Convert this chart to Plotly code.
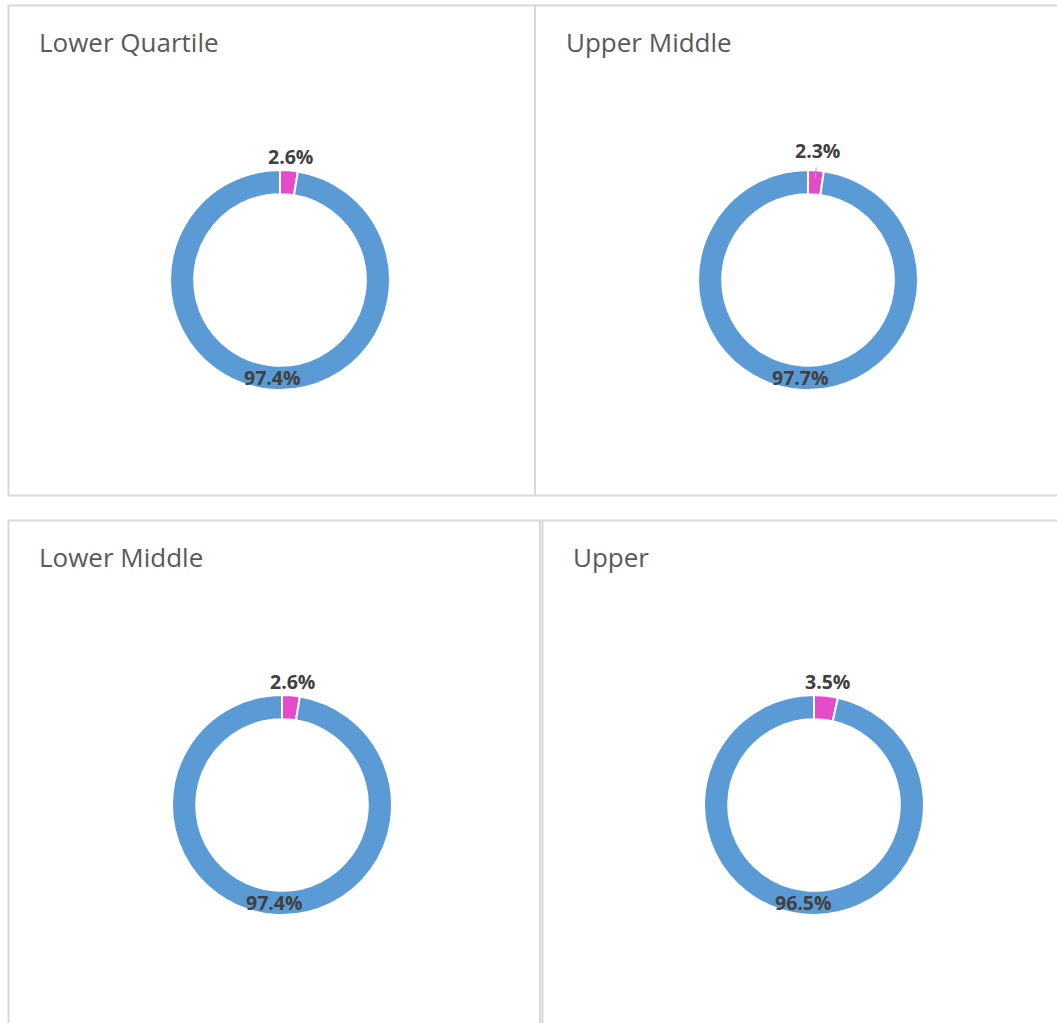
import math
import plotly.graph_objects as go

W, H = 1057, 1023

# ---- data ----
panel_titles = ["Lower Quartile", "Upper Middle", "Lower Middle", "Upper"]
categories = ["Pink", "Blue"]
pink_values = [2.6, 2.3, 2.6, 3.5]
blue_values = [97.4, 97.7, 97.4, 96.5]

# ---- styling / layout ----
colors = ["#E54BC8", "#5B9BD5"]
centers = [(280, 280), (808, 280), (282, 805), (814, 805)]  # pixel centres of donuts
radius = 110
hole = 0.78
title_pos = [(37, 42), (564, 42), (37, 557), (571, 557)]
panels = [(8.5, 5.5, 535, 495.5), (535, 5.5, 1070, 495.5),
          (8.5, 520.5, 540, 1040), (542.5, 520.5, 1070, 1040)]
outer_label_gap = [14, 20, 14, 14]

def px(x):
    return x / W

def py(y):
    return 1 - y / H

fig = go.Figure()
annotations = []
shapes = []

for i in range(4):
    cx, cy = centers[i]
    vals = [pink_values[i], blue_values[i]]
    fig.add_trace(go.Pie(
        labels=categories, values=vals, sort=False, direction="clockwise",
        rotation=0, hole=hole, textinfo="none", hoverinfo="label+percent",
        marker=dict(colors=colors, line=dict(color="white", width=2)),
        domain=dict(x=[px(cx - radius), px(cx + radius)],
                    y=[py(cy + radius), py(cy - radius)]),
        showlegend=False,
    ))
    total = sum(vals)
    start = 0.0
    for j, v in enumerate(vals):
        mid = (start + v / 2) / total * 2 * math.pi
        start += v
        if j == 0:
            r = radius + outer_label_gap[i]
        else:
            r = radius * (1 + hole) / 2
        lx = cx + r * math.sin(mid)
        ly = cy - r * math.cos(mid)
        annotations.append(dict(
            x=px(lx), y=py(ly), xref="paper", yref="paper",
            text=f"<b>{v:.1f}%</b>", showarrow=False,
            xanchor="center", yanchor="middle",
            font=dict(family="Open Sans", size=19.5, color="#404040")))
    # panel title
    tx, ty = title_pos[i]
    annotations.append(dict(
        x=px(tx), y=py(ty), xref="paper", yref="paper", text=panel_titles[i],
        showarrow=False, xanchor="left", yanchor="middle",
        font=dict(family="Open Sans", size=26, color="#595959")))
    x0, y0, x1, y1 = panels[i]
    shapes.append(dict(type="rect", xref="paper", yref="paper",
                       x0=px(x0), x1=px(x1), y0=py(y1), y1=py(y0),
                       line=dict(color="#D9D9D9", width=2), fillcolor="rgba(0,0,0,0)",
                       layer="below"))

# leader line for the Upper Middle small slice
cx, cy = centers[1]
mid = pink_values[1] / 2 / (pink_values[1] + blue_values[1]) * 2 * math.pi
shapes.append(dict(type="line", xref="paper", yref="paper",
                   x0=px(cx + (radius + 3) * math.sin(mid)), y0=py(cy - (radius + 3) * math.cos(mid)),
                   x1=px(cx + (radius - 8) * math.sin(mid)), y1=py(cy - (radius - 8) * math.cos(mid)),
                   line=dict(color="#A6A6A6", width=1)))

fig.update_layout(
    width=W, height=H, margin=dict(l=0, r=0, t=0, b=0),
    paper_bgcolor="white", plot_bgcolor="white",
    annotations=annotations, shapes=shapes,
)

fig.write_html("out.html", config={"displayModeBar": False},
               post_script="document.body.style.margin='0';document.body.style.overflow='hidden';")
